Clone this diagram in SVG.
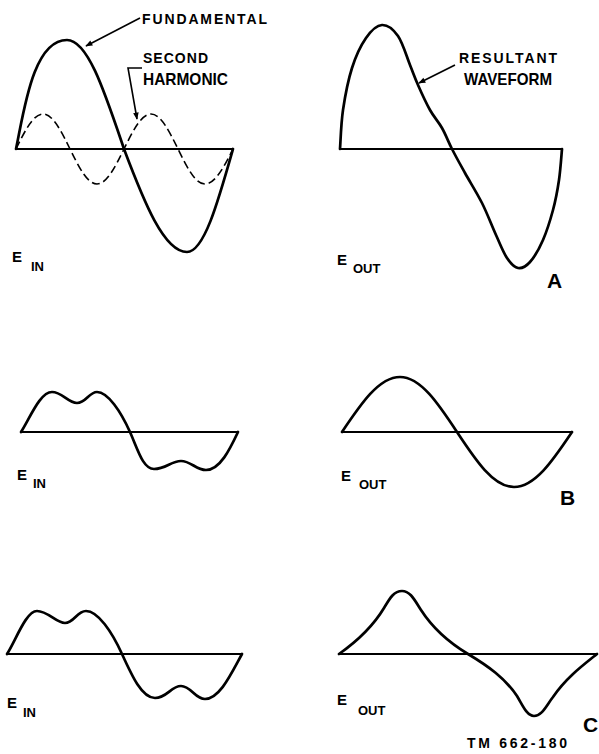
<svg xmlns="http://www.w3.org/2000/svg" width="599" height="754" viewBox="0 0 599 754">
<defs>
<marker id="arr" viewBox="0 0 10 10" refX="9" refY="5" markerWidth="9" markerHeight="7" markerUnits="userSpaceOnUse" orient="auto">
<path d="M0,1 L10,5 L0,9 Z" fill="#000"/>
</marker>
</defs>
<style>
.axis{stroke:#000;stroke-width:2;fill:none}
.wave{stroke:#000;stroke-width:2.7;fill:none;stroke-linejoin:round;stroke-linecap:round}
.dash{stroke:#000;stroke-width:1.6;fill:none;stroke-dasharray:8 4}
.lead{stroke:#000;stroke-width:1.6;fill:none}
text{font-family:"Liberation Sans",Arial,sans-serif;font-weight:bold;fill:#000}
.lbl{font-size:14px}
.big{font-size:17px}
.e{font-size:15px}
.sub{font-size:13px}
.let{font-size:21px}
</style>
<rect width="599" height="754" fill="#fff"/>

<g id="panelA-in">
<line class="axis" x1="15" y1="149" x2="233" y2="149"/>
<path class="wave" d="M16,149 C24,111 33,40 67,40 C88,40 105,93 124,149 C144,202 164,252 187,252 C204,252 218,202 233,149"/>
<path class="dash" d="M16,149 C24.8,131.1 33.2,114 43,114 C52.8,114 61.2,131.1 70,149 C78.8,166.9 87.2,184 97,184 C106.8,184 115.2,166.9 124,149 C132.8,131.1 141.2,114 151,114 C160.8,114 169.2,131.1 178,149 C186.8,166.9 195.2,184 205,184 C215.1,184 224.1,166.9 233,149"/>
<text class="e" x="12" y="262">E</text>
<text class="sub" x="31" y="271">IN</text>
</g>

<g id="panelA-out">
<line class="axis" x1="340" y1="149" x2="562" y2="149"/>
<path class="wave" d="M340,149 C340.5,142.5 341,123.5 343,110 C345,96.5 348.2,80 352,68 C355.8,56 361,45.2 366,38 C371,30.8 376.7,25.3 382,25 C387.3,24.7 393.3,29.3 398,36 C402.7,42.7 406.7,56.8 410,65 C413.3,73.2 414.7,77.5 418,85 C421.3,92.5 426,102.8 430,110 C434,117.2 438.3,121.5 442,128 C445.7,134.5 448.2,141.5 452,149 C455.8,156.5 460,164 465,173 C470,182 476.8,192.7 482,203 C487.2,213.3 491.8,225.8 496,235 C500.2,244.2 503.3,252.5 507,258 C510.7,263.5 514.2,267.3 518,268 C521.8,268.7 525.8,266.7 530,262 C534.2,257.3 539.2,248.7 543,240 C546.8,231.3 550.3,220 553,210 C555.7,200 557.5,190.2 559,180 C560.5,169.8 561.5,154.2 562,149"/>
<text class="e" x="337" y="265">E</text>
<text class="sub" x="353" y="273">OUT</text>
<text class="let" x="547" y="288">A</text>
</g>

<g id="labels-A">
<text class="lbl" x="142" y="24" textLength="125" lengthAdjust="spacing">FUNDAMENTAL</text>
<text class="lbl" x="143" y="63" textLength="65" lengthAdjust="spacing">SECOND</text>
<text class="big" x="143" y="85" textLength="85" lengthAdjust="spacingAndGlyphs">HARMONIC</text>
<text class="lbl" x="459" y="63" textLength="98" lengthAdjust="spacing">RESULTANT</text>
<text class="big" x="464" y="85" textLength="88" lengthAdjust="spacingAndGlyphs">WAVEFORM</text>
</g>

<g id="panelB-in">
<line class="axis" x1="21" y1="432" x2="238" y2="432"/>
<path class="wave" d="M21,432 C30,418 40,392 52,392 C62,392 68,403 77,403 C86,403 89,392 97,392 C108,392 121,412 130,432 C138,450 143,469 154,469 C166,469 171,461 181,461 C191,461 196,470 206,470 C220,470 230,449 238,432"/>
<text class="e" x="17" y="480">E</text>
<text class="sub" x="33" y="488">IN</text>
</g>

<g id="panelB-out">
<line class="axis" x1="342" y1="432" x2="572" y2="432"/>
<path class="wave" d="M342,432 C360.9,403.8 379,377 400,377 C420.6,377 438.4,403.8 457,432 C475.6,460.2 493.4,487 514,487 C535,487 553.1,460.2 572,432"/>
<text class="e" x="341" y="481">E</text>
<text class="sub" x="359" y="489">OUT</text>
<text class="let" x="560" y="505">B</text>
</g>

<g id="panelC-in">
<line class="axis" x1="7" y1="654" x2="242" y2="654"/>
<path class="wave" d="M7,654 C16,640 26,611 37,611 C48,611 56,623 65,623 C74,623 77,611 86,611 C98,611 112,632 122,654 C132,676 142,698 155,698 C167,698 171,686 181,686 C191,686 195,699 205,699 C220,699 232,672 242,654"/>
<text class="e" x="7" y="708">E</text>
<text class="sub" x="23" y="717">IN</text>
</g>

<g id="panelC-out">
<line class="axis" x1="339" y1="654" x2="597" y2="654"/>
<path class="wave" d="M339,654 C356,642 372,628 384,608 C390,598 394,591 402,591 C410,591 414,599 421,610 C432,627 448,642 468,654 C488,666 505,678 517,696 C523,706 527,716 534,716 C542,716 546,706 553,697 C566,678 582,666 597,654"/>
<text class="e" x="337" y="705">E</text>
<text class="sub" x="358" y="715">OUT</text>
<text class="let" x="583" y="732">C</text>
<text class="lbl" x="467" y="748" textLength="100" lengthAdjust="spacing">TM 662-180</text>
</g>

<g id="connectors">
<path class="lead" d="M140,18 L86,46" marker-end="url(#arr)"/>
<path class="lead" d="M142,68 L128,68 L137,119" marker-end="url(#arr)"/>
<path class="lead" d="M455,65 L419,83" marker-end="url(#arr)"/>
</g>
</svg>
